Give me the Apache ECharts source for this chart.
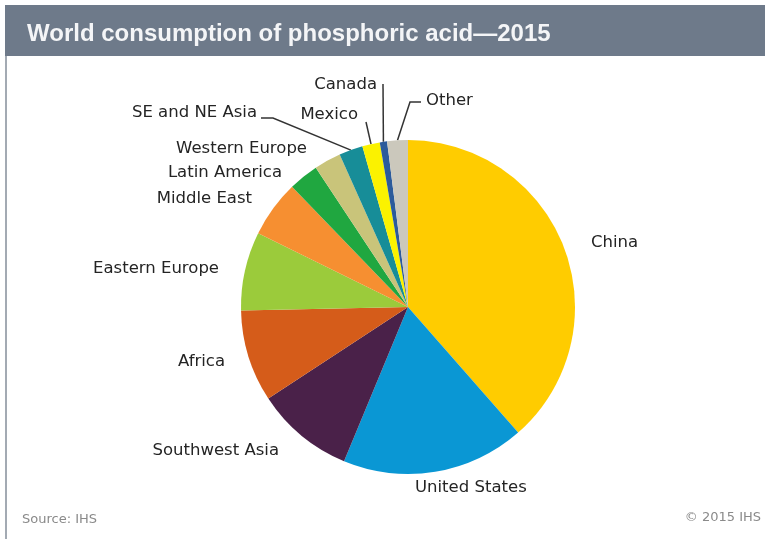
<!DOCTYPE html>
<html>
<head>
<meta charset="utf-8">
<script src="https://cdn.jsdelivr.net/npm/echarts@6/dist/echarts.min.js"></script>
<style>
  html, body { margin: 0; padding: 0; background: #ffffff; }
  #chart { width: 765px; height: 539px; }
</style>
</head>
<body>
<div id="chart"></div>
<script>
// Share of world phosphoric acid consumption, 2015 (percent)
const regions = ['China', 'United States', 'Southwest Asia', 'Africa', 'Eastern Europe',
  'Middle East', 'Latin America', 'Western Europe', 'SE and NE Asia', 'Mexico', 'Canada', 'Other'];
const sharePct = [38.5, 17.7, 9.5, 8.9, 7.6, 5.5, 2.9, 2.6, 2.3, 1.7, 0.7, 2.0];

const titleText = 'World consumption of phosphoric acid\u20142015';
const sourceText = 'Source: IHS';
const copyrightText = '\u00a9 2015 IHS';

// Slice colours, in region order
const sliceColors = ['#ffcc00', '#0a97d4', '#4a2149', '#d55c1a', '#9bcb3b', '#f68f31',
  '#20a740', '#c9c47a', '#178d98', '#fbf200', '#2c5b9b', '#cbc8bc'];

// Where each label sits, and the bends of the leader lines for the thin slices
const labelSpots = {
  'China':          { x: 591, y: 243, align: 'left' },
  'United States':  { x: 415, y: 488, align: 'left' },
  'Southwest Asia': { x: 279, y: 451, align: 'right' },
  'Africa':         { x: 225, y: 362, align: 'right' },
  'Eastern Europe': { x: 219, y: 269, align: 'right' },
  'Middle East':    { x: 252, y: 199, align: 'right' },
  'Latin America':  { x: 282, y: 173, align: 'right' },
  'Western Europe': { x: 307, y: 149, align: 'right' },
  'SE and NE Asia': { x: 257, y: 113, align: 'right', line: [[273, 118], [261, 118]] },
  'Mexico':         { x: 358, y: 115, align: 'right', line: [[366, 122], [366, 122]] },
  'Canada':         { x: 377, y: 85,  align: 'right', line: [[383, 84], [383, 84]] },
  'Other':          { x: 426, y: 101, align: 'left',  line: [[410, 102], [421, 102]] }
};

const labelFont = 'DejaVu Sans';

const chart = echarts.init(document.getElementById('chart'), null, { renderer: 'canvas' });

const pieData = regions.map((name, i) => ({
  name: name,
  value: sharePct[i],
  itemStyle: { color: sliceColors[i] },
  labelLine: { show: !!labelSpots[name].line }
}));

chart.setOption({
  animation: false,
  backgroundColor: '#ffffff',
  title: {
    text: titleText,
    left: 22,
    top: 17,
    textStyle: {
      color: '#f4f5f7',
      fontFamily: 'Liberation Sans, Arial, sans-serif',
      fontWeight: 'bold',
      fontSize: 24
    }
  },
  graphic: [
    { type: 'rect', z: -1, shape: { x: 5, y: 5, width: 760, height: 51 }, style: { fill: '#6e7a8a' } },
    { type: 'rect', z: -1, shape: { x: 5, y: 56, width: 2, height: 483 }, style: { fill: '#a3aab3' } },
    {
      type: 'text', left: 22, top: 513,
      style: { text: sourceText, fill: '#8a8a8a', font: '13px "DejaVu Sans"' }
    },
    {
      type: 'text', right: 4, top: 511,
      style: { text: copyrightText, fill: '#8a8a8a', font: '13px "DejaVu Sans"' }
    }
  ],
  series: [{
    type: 'pie',
    center: [408, 307],
    radius: 167,
    startAngle: 90,
    clockwise: true,
    avoidLabelOverlap: false,
    emphasis: { disabled: true },
    label: {
      show: true,
      position: 'outside',
      formatter: '{b}',
      color: '#242424',
      fontFamily: labelFont,
      fontSize: 16.5
    },
    labelLine: {
      show: true,
      lineStyle: { color: '#333333', width: 1.5 }
    },
    labelLayout: function (p) {
      const spot = labelSpots[regions[p.dataIndex]];
      const out = { x: spot.x, y: spot.y, align: spot.align, verticalAlign: 'middle' };
      if (spot.line && p.labelLinePoints) {
        out.labelLinePoints = [p.labelLinePoints[0]].concat(spot.line);
      }
      return out;
    },
    data: pieData
  }]
});
</script>
</body>
</html>
